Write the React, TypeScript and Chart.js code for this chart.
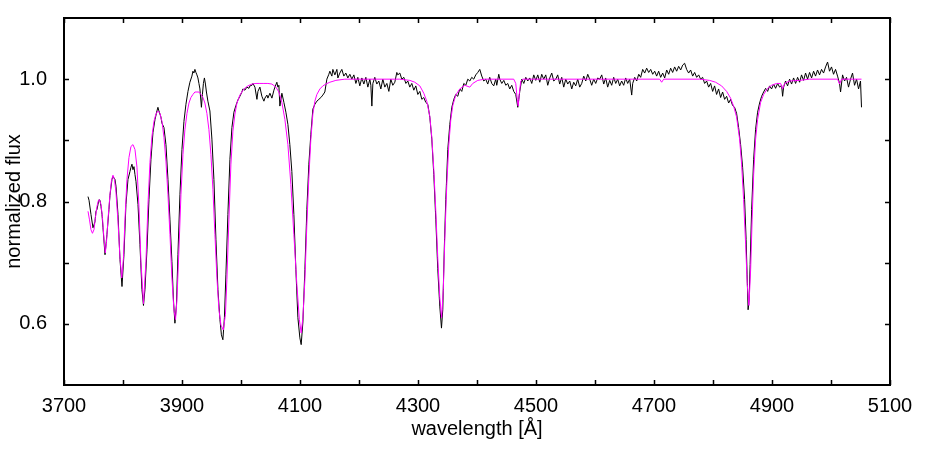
import React, { useEffect, useRef } from 'react';
import { Chart, registerables } from 'chart.js';

Chart.register(...registerables);

// Observed spectrum (wavelength in Angstrom, normalized flux)
const obsWave = [
  3740.7, 3742.4, 3745.7, 3749.1, 3752.5, 3754.2, 3755.9, 3757.6, 3759.3, 3761.0,
  3762.7, 3764.4, 3766.1, 3769.5, 3772.8, 3776.2, 3777.9, 3781.3, 3783.0, 3786.4,
  3788.1, 3791.5, 3794.9, 3798.3, 3801.6, 3805.0, 3808.4, 3811.8, 3813.5, 3815.2,
  3816.9, 3818.6, 3820.3, 3822.0, 3825.4, 3828.7, 3832.1, 3834.7, 3837.2, 3840.6,
  3844.0, 3847.4, 3850.8, 3854.2, 3857.5, 3859.2, 3860.9, 3864.3, 3866.0, 3869.4,
  3872.8, 3876.2, 3879.6, 3882.9, 3885.5, 3888.0, 3890.6, 3893.1, 3896.5, 3899.9,
  3903.3, 3906.7, 3910.1, 3913.4, 3916.8, 3918.5, 3920.2, 3921.9, 3923.6, 3925.3,
  3927.0, 3928.7, 3930.4, 3932.9, 3934.6, 3936.3, 3938.0, 3939.7, 3941.4, 3943.9,
  3947.3, 3950.7, 3954.1, 3957.5, 3960.9, 3964.3, 3966.8, 3969.3, 3971.9, 3974.4,
  3977.8, 3981.2, 3984.6, 3988.0, 3991.4, 3994.8, 3998.1, 4001.5, 4003.2, 4006.6,
  4010.0, 4013.4, 4015.1, 4018.5, 4020.2, 4023.6, 4027.0, 4028.7, 4032.0, 4035.4,
  4038.8, 4040.5, 4043.9, 4045.6, 4049.0, 4052.4, 4055.8, 4057.5, 4060.8, 4062.5,
  4064.2, 4065.9, 4069.3, 4072.7, 4076.1, 4079.5, 4082.8, 4086.2, 4089.6, 4093.0,
  4096.4, 4099.8, 4102.0, 4104.9, 4108.3, 4111.6, 4115.0, 4118.4, 4121.8, 4125.2,
  4128.6, 4132.0, 4135.4, 4138.7, 4142.1, 4145.5, 4148.9, 4150.6, 4154.0, 4155.7,
  4159.1, 4162.5, 4164.2, 4167.5, 4170.9, 4174.3, 4177.7, 4181.1, 4184.5, 4187.9,
  4191.3, 4194.7, 4198.0, 4201.4, 4204.8, 4208.2, 4211.6, 4215.0, 4218.4, 4220.1,
  4221.8, 4223.5, 4226.8, 4230.2, 4233.6, 4237.0, 4240.4, 4243.8, 4247.2, 4250.6,
  4253.9, 4257.3, 4260.7, 4264.1, 4265.8, 4269.2, 4272.6, 4276.0, 4279.4, 4282.7,
  4286.1, 4289.5, 4292.9, 4296.3, 4299.7, 4303.1, 4306.5, 4309.8, 4313.2, 4316.6,
  4320.0, 4323.4, 4326.8, 4330.2, 4333.5, 4336.9, 4339.8, 4342.0, 4344.5, 4347.1,
  4350.5, 4353.9, 4357.3, 4360.7, 4364.0, 4367.4, 4370.8, 4374.2, 4377.6, 4381.0,
  4384.4, 4387.8, 4391.1, 4394.5, 4397.9, 4401.3, 4404.7, 4408.1, 4411.5, 4414.8,
  4418.2, 4421.6, 4425.0, 4428.4, 4431.8, 4433.5, 4436.9, 4438.6, 4442.0, 4445.4,
  4448.8, 4452.1, 4455.5, 4458.9, 4462.3, 4465.7, 4469.1, 4470.8, 4472.5, 4475.9,
  4479.3, 4482.7, 4486.0, 4489.4, 4492.8, 4496.2, 4499.6, 4503.0, 4506.4, 4509.7,
  4513.1, 4516.5, 4519.9, 4523.3, 4526.7, 4530.1, 4533.5, 4536.8, 4540.2, 4543.6,
  4547.0, 4550.4, 4553.8, 4557.2, 4560.6, 4563.9, 4567.3, 4570.7, 4574.1, 4577.5,
  4580.9, 4584.3, 4587.7, 4591.0, 4594.4, 4597.8, 4601.2, 4604.6, 4608.0, 4611.4,
  4614.8, 4618.1, 4621.5, 4624.9, 4628.3, 4631.7, 4635.1, 4638.5, 4641.8, 4645.2,
  4648.6, 4652.0, 4655.4, 4658.8, 4662.2, 4663.9, 4667.3, 4670.7, 4674.1, 4677.4,
  4680.8, 4684.2, 4687.6, 4691.0, 4694.4, 4697.8, 4701.2, 4704.5, 4707.9, 4711.3,
  4714.7, 4718.1, 4721.5, 4724.9, 4728.2, 4731.6, 4735.0, 4738.4, 4741.8, 4745.2,
  4748.6, 4751.9, 4755.3, 4758.7, 4762.1, 4765.5, 4768.9, 4772.3, 4775.7, 4779.0,
  4782.4, 4785.8, 4789.2, 4792.6, 4796.0, 4799.4, 4802.7, 4806.1, 4809.5, 4812.9,
  4816.3, 4819.7, 4823.1, 4826.5, 4829.8, 4833.2, 4836.6, 4840.0, 4843.4, 4846.8,
  4850.2, 4853.6, 4856.1, 4857.8, 4859.5, 4861.2, 4862.9, 4865.5, 4868.9, 4872.2,
  4875.6, 4879.0, 4882.4, 4885.8, 4889.2, 4892.6, 4895.9, 4899.3, 4902.7, 4906.1,
  4909.5, 4912.9, 4916.3, 4918.0, 4919.7, 4923.0, 4926.4, 4929.8, 4933.2, 4936.6,
  4940.0, 4943.4, 4946.8, 4950.1, 4953.5, 4956.9, 4960.3, 4963.7, 4967.1, 4970.5,
  4973.8, 4977.2, 4980.6, 4984.0, 4987.4, 4990.8, 4994.2, 4997.5, 5000.9, 5004.3,
  5007.7, 5011.1, 5014.5, 5016.2, 5019.6, 5023.0, 5026.3, 5029.7, 5033.1, 5036.5,
  5039.9, 5043.3, 5046.7, 5050.0, 5051.7
];
const obsFlux = [
  0.808, 0.802, 0.779, 0.757, 0.767, 0.784, 0.787, 0.795, 0.803, 0.802,
  0.792, 0.779, 0.757, 0.713, 0.746, 0.787, 0.810, 0.836, 0.841, 0.836,
  0.825, 0.779, 0.705, 0.661, 0.713, 0.795, 0.836, 0.849, 0.856, 0.861,
  0.852, 0.857, 0.844, 0.833, 0.795, 0.730, 0.656, 0.630, 0.656, 0.721,
  0.803, 0.869, 0.913, 0.934, 0.948, 0.954, 0.948, 0.938, 0.928, 0.921,
  0.893, 0.836, 0.770, 0.702, 0.639, 0.601, 0.631, 0.713, 0.811, 0.885,
  0.931, 0.959, 0.980, 0.995, 1.005, 1.013, 1.010, 1.016, 1.011, 1.007,
  1.002, 0.993, 0.984, 0.954, 0.975, 0.993, 1.002, 0.992, 0.979, 0.964,
  0.948, 0.902, 0.836, 0.738, 0.656, 0.607, 0.582, 0.574, 0.610, 0.680,
  0.779, 0.869, 0.921, 0.946, 0.957, 0.966, 0.972, 0.979, 0.984, 0.982,
  0.987, 0.985, 0.989, 0.990, 0.993, 0.987, 0.967, 0.980, 0.987, 0.972,
  0.964, 0.969, 0.974, 0.969, 0.977, 0.969, 0.982, 0.987, 0.995, 0.987,
  0.990, 0.956, 0.977, 0.962, 0.946, 0.926, 0.893, 0.849, 0.779, 0.689,
  0.610, 0.577, 0.566, 0.603, 0.689, 0.787, 0.861, 0.910, 0.951, 0.959,
  0.964, 0.967, 0.970, 0.974, 0.979, 1.000, 1.008, 1.013, 1.005, 1.016,
  1.007, 1.016, 1.002, 1.010, 1.016, 1.005, 1.010, 1.002, 1.008, 1.000,
  1.007, 0.993, 1.003, 0.989, 1.002, 0.992, 1.003, 0.987, 1.000, 0.990,
  0.956, 0.993, 1.003, 0.992, 0.997, 0.984, 1.000, 0.987, 0.993, 0.980,
  1.000, 0.990, 0.995, 1.011, 1.007, 1.010, 1.000, 1.003, 0.993, 0.997,
  0.987, 0.993, 0.982, 0.989, 0.975, 0.980, 0.967, 0.970, 0.962, 0.959,
  0.938, 0.902, 0.844, 0.770, 0.690, 0.629, 0.593, 0.623, 0.721, 0.803,
  0.885, 0.926, 0.954, 0.967, 0.975, 0.972, 0.984, 0.980, 0.993, 0.990,
  1.000, 0.997, 1.003, 1.000, 1.007, 1.011, 1.016, 1.005, 0.997, 1.000,
  0.992, 1.003, 0.993, 0.989, 1.000, 0.990, 1.008, 1.000, 0.993, 0.998,
  0.990, 0.993, 0.984, 0.990, 0.980, 0.975, 0.954, 0.967, 0.980, 1.000,
  0.993, 1.003, 0.997, 1.002, 0.993, 1.007, 0.998, 1.007, 0.995, 1.008,
  1.000, 1.007, 0.990, 1.002, 1.010, 0.997, 1.000, 1.007, 0.992, 1.003,
  0.987, 1.000, 0.992, 0.997, 0.984, 0.995, 0.989, 1.000, 0.987, 0.993,
  1.005, 0.997, 1.008, 1.000, 0.990, 1.000, 0.993, 1.002, 1.000, 1.007,
  0.992, 1.002, 0.987, 0.998, 0.990, 1.003, 0.993, 1.000, 0.989, 0.997,
  0.990, 1.002, 0.993, 1.000, 0.974, 0.993, 1.003, 0.997, 1.008, 1.003,
  1.016, 1.010, 1.018, 1.011, 1.016, 1.008, 1.013, 1.005, 1.013, 1.003,
  1.010, 1.002, 1.015, 1.008, 1.018, 1.011, 1.020, 1.013, 1.021, 1.015,
  1.023, 1.026, 1.016, 1.010, 1.015, 1.005, 1.011, 1.003, 1.007, 1.000,
  1.003, 0.993, 0.997, 0.987, 0.993, 0.980, 0.989, 0.975, 0.984, 0.970,
  0.979, 0.967, 0.972, 0.961, 0.967, 0.957, 0.954, 0.944, 0.921, 0.893,
  0.856, 0.803, 0.738, 0.680, 0.623, 0.639, 0.697, 0.787, 0.869, 0.918,
  0.946, 0.961, 0.972, 0.979, 0.985, 0.980, 0.989, 0.984, 0.992, 0.985,
  0.993, 0.987, 0.990, 0.972, 0.987, 0.997, 0.989, 1.000, 0.992, 1.002,
  0.993, 1.003, 0.995, 1.007, 0.998, 1.010, 1.000, 1.011, 1.002, 1.013,
  1.005, 1.015, 1.007, 1.016, 1.010, 1.020, 1.028, 1.013, 1.020, 1.008,
  1.016, 1.005, 0.993, 0.979, 1.007, 0.997, 1.003, 0.987, 1.000, 1.010,
  0.990, 1.000, 0.984, 0.997, 0.954
];

// Model spectrum
const modelWave = [
  3740.7, 3743.2, 3745.7, 3748.2, 3750.8, 3753.3, 3755.9, 3758.4, 3760.1, 3762.7,
  3765.2, 3767.8, 3770.0, 3772.0, 3774.5, 3777.9, 3780.4, 3783.0, 3785.5, 3788.1,
  3791.5, 3794.9, 3797.9, 3800.8, 3803.3, 3806.7, 3810.1, 3813.5, 3816.9, 3820.3,
  3823.7, 3827.1, 3830.4, 3834.7, 3838.9, 3842.3, 3845.7, 3849.1, 3852.5, 3855.8,
  3859.2, 3862.6, 3866.0, 3869.4, 3872.8, 3876.2, 3879.6, 3882.9, 3886.3, 3889.0,
  3891.4, 3894.8, 3898.2, 3901.6, 3905.0, 3908.4, 3911.8, 3915.1, 3918.5, 3921.9,
  3925.3, 3928.7, 3932.1, 3935.5, 3938.8, 3942.2, 3945.6, 3949.0, 3952.4, 3955.8,
  3959.2, 3962.6, 3966.0, 3970.0, 3973.6, 3976.1, 3979.5, 3982.9, 3986.3, 3989.7,
  3993.1, 3998.1, 4004.9, 4011.7, 4018.5, 4025.3, 4032.0, 4038.8, 4045.6, 4052.4,
  4059.1, 4064.2, 4069.3, 4074.4, 4079.5, 4084.5, 4089.6, 4094.7, 4098.9, 4102.0,
  4104.9, 4108.3, 4111.6, 4115.0, 4118.4, 4121.8, 4125.2, 4128.6, 4133.7, 4138.7,
  4143.8, 4150.6, 4160.8, 4176.0, 4269.2, 4286.1, 4294.6, 4303.1, 4309.8, 4314.9,
  4320.0, 4323.4, 4326.8, 4330.2, 4333.5, 4336.9, 4340.0, 4342.9, 4345.4, 4348.8,
  4352.2, 4355.6, 4359.0, 4364.0, 4370.8, 4379.3, 4387.8, 4392.8, 4401.3, 4413.2,
  4462.3, 4465.7, 4468.2, 4469.9, 4471.6, 4474.2, 4477.6, 4709.6, 4713.0, 4716.4,
  4777.3, 4794.2, 4804.4, 4814.6, 4823.1, 4829.8, 4834.9, 4840.0, 4845.1, 4848.5,
  4851.9, 4855.3, 4858.1, 4860.9, 4863.8, 4866.3, 4868.9, 4872.2, 4875.6, 4880.7,
  4885.8, 4892.6, 4899.3, 4907.8, 4914.6, 4918.0, 4921.4, 4929.8, 4946.8, 4963.7,
  5011.1, 5014.5, 5017.9, 5051.7
];
const modelFlux = [
  0.784, 0.770, 0.754, 0.748, 0.754, 0.774, 0.792, 0.802, 0.803, 0.795,
  0.774, 0.738, 0.716, 0.733, 0.770, 0.811, 0.834, 0.843, 0.836, 0.815,
  0.767, 0.708, 0.675, 0.708, 0.770, 0.836, 0.872, 0.890, 0.893, 0.885,
  0.856, 0.790, 0.702, 0.633, 0.702, 0.795, 0.864, 0.907, 0.931, 0.943,
  0.948, 0.944, 0.931, 0.905, 0.866, 0.811, 0.746, 0.675, 0.623, 0.607,
  0.639, 0.721, 0.811, 0.877, 0.918, 0.944, 0.961, 0.970, 0.975, 0.979,
  0.979, 0.979, 0.975, 0.970, 0.961, 0.944, 0.918, 0.877, 0.820, 0.746,
  0.675, 0.623, 0.598, 0.590, 0.615, 0.672, 0.770, 0.861, 0.915, 0.943,
  0.961, 0.974, 0.984, 0.989, 0.992, 0.993, 0.993, 0.993, 0.993, 0.992,
  0.987, 0.979, 0.962, 0.934, 0.893, 0.828, 0.746, 0.664, 0.607, 0.585,
  0.610, 0.672, 0.762, 0.839, 0.902, 0.943, 0.964, 0.975, 0.984, 0.989,
  0.992, 0.995, 0.998, 1.000, 1.000, 0.998, 0.995, 0.989, 0.977, 0.964,
  0.939, 0.905, 0.852, 0.784, 0.708, 0.643, 0.610, 0.656, 0.738, 0.828,
  0.893, 0.934, 0.957, 0.974, 0.984, 0.990, 0.987, 0.993, 0.998, 1.000,
  1.000, 0.993, 0.967, 0.956, 0.975, 0.997, 1.000, 1.000, 0.995, 1.000,
  1.000, 0.998, 0.995, 0.989, 0.980, 0.969, 0.956, 0.938, 0.902, 0.861,
  0.803, 0.730, 0.664, 0.630, 0.689, 0.770, 0.844, 0.902, 0.934, 0.962,
  0.975, 0.985, 0.990, 0.993, 0.993, 0.984, 0.993, 0.997, 0.998, 1.000,
  1.000, 0.992, 1.000, 1.000
];

// Axis ticks
const xMajorTicks = [3700, 3900, 4100, 4300, 4500, 4700, 4900, 5100];
const xMinorTicks = [3800, 4000, 4200, 4400, 4600, 4800, 5000];
const yMajorTicks = [0.6, 0.8, 1.0];
const yMinorTicks = [0.7, 0.9];

const FONT = "'Liberation Sans', Arial, Helvetica, sans-serif";

const framePlugin = {
  id: 'frameTicks',
  afterDatasetsDraw(chart: any) {
    const { ctx, chartArea, scales } = chart;
    const { left, right, top, bottom } = chartArea;
    const x = scales.x;
    const y = scales.y;
    const L = 5;
    ctx.save();
    ctx.strokeStyle = '#000';
    ctx.lineWidth = 1.5;
    ctx.beginPath();
    [...xMajorTicks, ...xMinorTicks].forEach((v) => {
      const px = Math.round(x.getPixelForValue(v)) + 0.5;
      ctx.moveTo(px, bottom);
      ctx.lineTo(px, bottom - L);
      ctx.moveTo(px, top);
      ctx.lineTo(px, top + L);
    });
    [...yMajorTicks, ...yMinorTicks].forEach((v) => {
      const py = Math.round(y.getPixelForValue(v)) + 0.5;
      ctx.moveTo(left, py);
      ctx.lineTo(left + L, py);
      ctx.moveTo(right, py);
      ctx.lineTo(right - L, py);
    });
    ctx.stroke();
    ctx.lineWidth = 2;
    ctx.strokeRect(left, top, right - left, bottom - top);
    ctx.restore();
  },
};

export default function App() {
  const canvasRef = useRef<HTMLCanvasElement | null>(null);

  useEffect(() => {
    if (!canvasRef.current) return;
    const chart = new Chart(canvasRef.current, {
      type: 'line',
      data: {
        datasets: [
          {
            label: 'model',
            data: modelWave.map((w, i) => ({ x: w, y: modelFlux[i] })),
            borderColor: '#ff00ff',
            borderWidth: 1,
            pointRadius: 0,
            tension: 0,
            fill: false,
            order: 0,
          },
          {
            label: 'observed',
            data: obsWave.map((w, i) => ({ x: w, y: obsFlux[i] })),
            borderColor: '#000000',
            borderWidth: 1,
            pointRadius: 0,
            tension: 0,
            fill: false,
            order: 1,
          },
        ],
      },
      options: {
        animation: false,
        responsive: true,
        maintainAspectRatio: false,
        layout: { padding: { top: 18, right: 36, bottom: 0, left: 0 } },
        plugins: {
          legend: { display: false },
          tooltip: { enabled: false },
        },
        events: [],
        scales: {
          x: {
            type: 'linear',
            min: 3700,
            max: 5100,
            grid: { display: false, drawTicks: false },
            border: { display: false },
            afterBuildTicks: (s: any) => {
              s.ticks = xMajorTicks.map((v) => ({ value: v }));
            },
            afterFit: (s: any) => {
              s.height = 65;
              s.paddingLeft = 0;
              s.paddingRight = 0;
            },
            ticks: {
              autoSkip: false,
              maxRotation: 0,
              padding: 9,
              color: '#000',
              font: { family: FONT, size: 20 },
              callback: (v: any) => String(v),
            },
            title: {
              display: true,
              text: 'wavelength [Å]',
              color: '#000',
              font: { family: FONT, size: 20 },
              padding: { top: 0, bottom: 9 },
            },
          },
          y: {
            type: 'linear',
            min: 0.5,
            max: 1.1,
            grid: { display: false, drawTicks: false },
            border: { display: false },
            afterBuildTicks: (s: any) => {
              s.ticks = yMajorTicks.map((v) => ({ value: v }));
            },
            afterFit: (s: any) => {
              s.width = 64;
              s.paddingTop = 0;
              s.paddingBottom = 0;
            },
            ticks: {
              padding: 17,
              color: '#000',
              font: { family: FONT, size: 20 },
              callback: (v: any) => Number(v).toFixed(1),
            },
            title: {
              display: true,
              text: 'normalized flux',
              color: '#000',
              font: { family: FONT, size: 20 },
              padding: { top: 2, bottom: 0 },
            },
          },
        },
      },
      plugins: [framePlugin],
    });
    return () => chart.destroy();
  }, []);

  return (
    <div style={{ position: 'fixed', left: 0, top: 0, width: 926, height: 450, background: '#fff' }}>
      <canvas ref={canvasRef} />
    </div>
  );
}
